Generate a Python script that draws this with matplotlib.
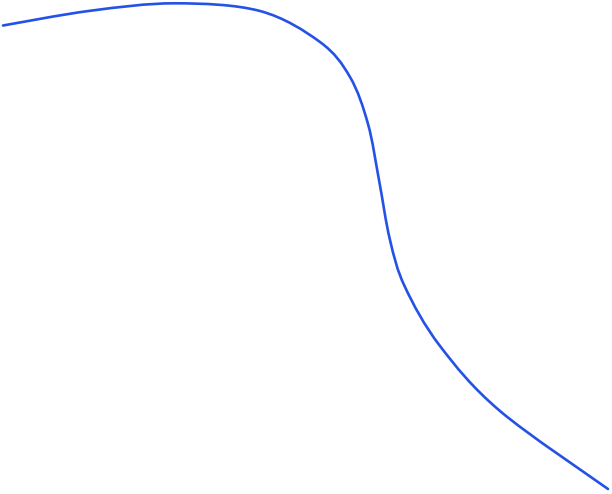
import matplotlib
matplotlib.use("Agg")
import matplotlib.pyplot as plt
from matplotlib.path import Path
from matplotlib.patches import PathPatch

# points (x right, y down from the top edge)
x_vals = [3, 90, 175, 260, 320, 350, 368, 379, 390, 405, 440, 500, 608]
y_vals = [25.5, 10.8, 3.3, 11, 42, 77, 124, 180, 240, 287, 346, 411, 489]


def smooth_path(xs, ys):
    # catmull-rom through the points, drawn as cubic beziers
    pts = list(zip(xs, ys))
    verts = [pts[0]]
    codes = [Path.MOVETO]
    n = len(pts)
    for i in range(n - 1):
        p0 = pts[i - 1] if i > 0 else pts[i]
        p1 = pts[i]
        p2 = pts[i + 1]
        p3 = pts[i + 2] if i + 2 < n else pts[i + 1]
        c1 = (p1[0] + (p2[0] - p0[0]) / 6, p1[1] + (p2[1] - p0[1]) / 6)
        c2 = (p2[0] - (p3[0] - p1[0]) / 6, p2[1] - (p3[1] - p1[1]) / 6)
        verts += [c1, c2, p2]
        codes += [Path.CURVE4] * 3
    return Path(verts, codes)


fig = plt.figure(figsize=(6.12, 4.94), dpi=100)
ax = fig.add_axes([0, 0, 1, 1])
ax.add_patch(PathPatch(smooth_path(x_vals, y_vals), facecolor="none",
                       edgecolor="#2452e6", linewidth=1.9,
                       capstyle="round", joinstyle="round"))
ax.set_xlim(0, 612)
ax.set_ylim(494, 0)
ax.axis("off")

fig.savefig("out.png", dpi=100)
